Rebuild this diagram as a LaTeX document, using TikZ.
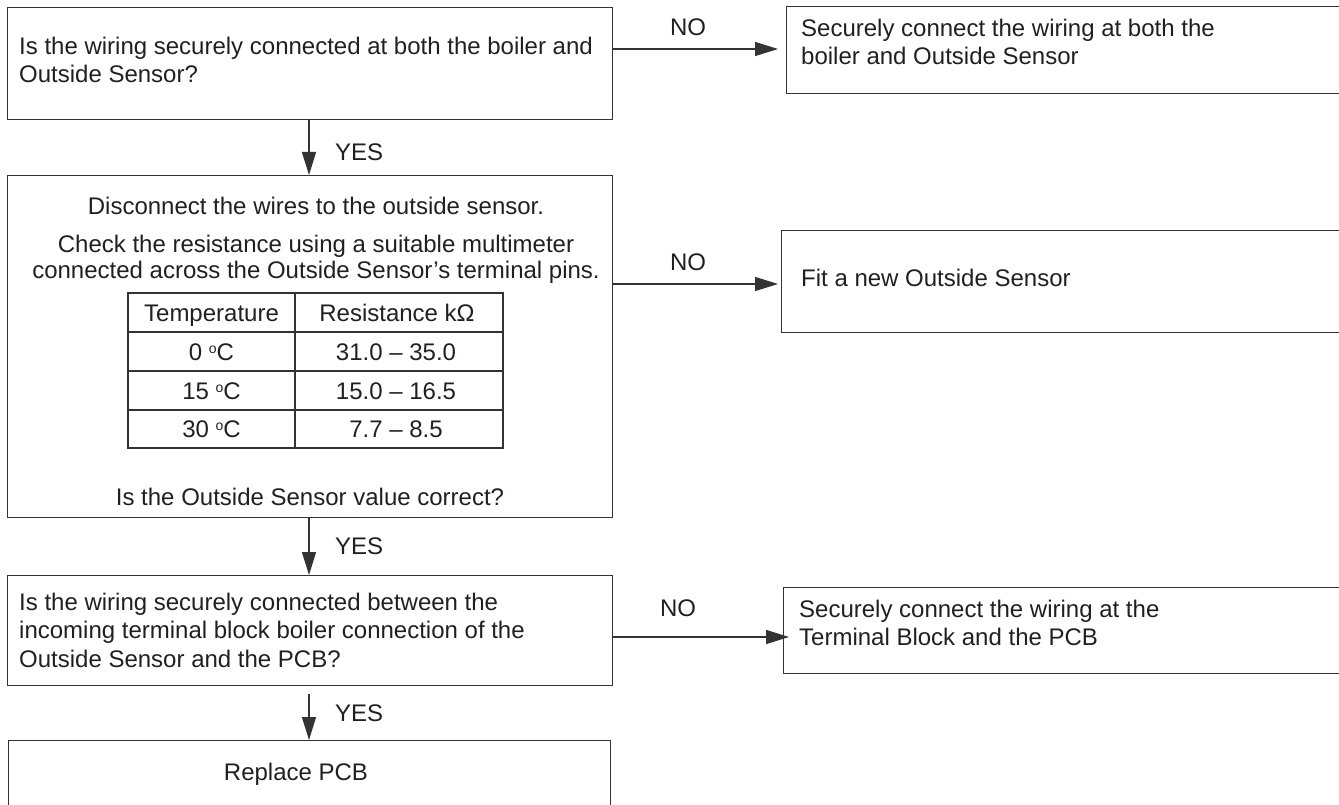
\documentclass[tikz,border=0pt]{standalone}
\usepackage{fontspec}
\setmainfont{Liberation Sans}
\usetikzlibrary{arrows.meta}
\definecolor{ink}{HTML}{231F20}
\definecolor{edge}{HTML}{333333}
\newcommand{\degsym}{{\fontsize{14pt}{14pt}\selectfont\raisebox{6.5pt}{o}}}
\tikzset{
  txt/.style={inner sep=0pt, text=ink, font=\fontsize{24pt}{28pt}\selectfont},
  boxnode/.style={draw=edge, line width=1.3pt, inner sep=0pt, anchor=north west},
  arr/.style={draw=edge, line width=1.3pt, -{Triangle[length=23pt,width=14pt]}},
  rule/.style={draw=edge, line width=1.3pt},
}
\begin{document}
\begin{tikzpicture}[x=1pt, y=-1pt]
\useasboundingbox (0,0) rectangle (1339,805);

% boxes
\node[boxnode, minimum width=605pt, minimum height=112pt] (b1) at (7,7) {};
\node[boxnode, minimum width=559pt, minimum height=87pt]  (n1) at (786,6) {};
\node[boxnode, minimum width=605pt, minimum height=342pt] (b2) at (7,175) {};
\node[boxnode, minimum width=564pt, minimum height=102pt] (n2) at (781,230) {};
\node[boxnode, minimum width=605pt, minimum height=110pt] (b3) at (7,575) {};
\node[boxnode, minimum width=562pt, minimum height=86pt]  (n3) at (783,587) {};
\node[boxnode, minimum width=602pt, minimum height=70pt]  (b4) at (8,740) {};

% texts
\node[txt, anchor=base west] (t1a) at (19,55) {Is the wiring securely connected at both the boiler and};
\node[txt, anchor=base west] (t1b) at (19,83) {Outside Sensor?};
\node[txt, anchor=base west] (m1a) at (801,37) {Securely connect the wiring at both the};
\node[txt, anchor=base west] (m1b) at (801,65) {boiler and Outside Sensor};

\node[txt, anchor=base] (t2a) at (316,215) {Disconnect the wires to the outside sensor.};
\node[txt, anchor=base] (t2b) at (316,252) {Check the resistance using a suitable multimeter};
\node[txt, anchor=base] (t2c) at (316,279) {connected across the Outside Sensor’s terminal pins.};
\node[txt, anchor=base] (t2d) at (310,505) {Is the Outside Sensor value correct?};
\node[txt, anchor=base west] (m2a) at (801,287) {Fit a new Outside Sensor};

\node[txt, anchor=base west] (t3a) at (19,610) {Is the wiring securely connected between the};
\node[txt, anchor=base west] (t3b) at (19,638) {incoming terminal block boiler connection of the};
\node[txt, anchor=base west] (t3c) at (19,667) {Outside Sensor and the PCB?};
\node[txt, anchor=base west] (m3a) at (799,617) {Securely connect the wiring at the};
\node[txt, anchor=base west] (m3b) at (799,645) {Terminal Block and the PCB};

\node[txt, anchor=base] (t4) at (296,780) {Replace PCB};

% table
\draw[rule] (128,293) rectangle (503,448);
\draw[rule] (128,332) -- (503,332);
\draw[rule] (128,371) -- (503,371);
\draw[rule] (128,410) -- (503,410);
\draw[rule] (295,293) -- (295,448);
\node[txt, anchor=base] (h1) at (211.5,321) {Temperature};
\node[txt, anchor=base] (h2) at (397,321) {Resistance k\char"03A9};
\node[txt, anchor=base] (r1a) at (211.5,360) {0 \degsym C};
\node[txt, anchor=base] (r1b) at (396,360) {31.0 – 35.0};
\node[txt, anchor=base] (r2a) at (211.5,399) {15 \degsym C};
\node[txt, anchor=base] (r2b) at (396,399) {15.0 – 16.5};
\node[txt, anchor=base] (r3a) at (211.5,437) {30 \degsym C};
\node[txt, anchor=base] (r3b) at (396,437) {7.7 – 8.5};

% connectors
\coordinate (y1) at (0,49);
\coordinate (y2) at (0,284);
\coordinate (y3) at (0,637);
\coordinate (xc) at (309,0);
\draw[arr, shorten >=8pt] (b1.east |- y1) -- (n1.west |- y1);
\draw[arr, shorten >=3pt] (b2.east |- y2) -- (n2.west |- y2);
\draw[arr, shorten >=-6pt] (b3.east |- y3) -- (n3.west |- y3);
\draw[arr] (b1.south -| xc) -- (b2.north -| xc);
\draw[arr] (b2.south -| xc) -- (b3.north -| xc);
\draw[arr, shorten <=8pt] (b3.south -| xc) -- (b4.north -| xc);

% labels
\node[txt, anchor=base] (no1) at (688,35.5) {NO};
\node[txt, anchor=base] (no2) at (688,270) {NO};
\node[txt, anchor=base] (no3) at (678,616.5) {NO};
\node[txt, anchor=base west] (yes1) at (335,160.5) {YES};
\node[txt, anchor=base west] (yes2) at (335,554.5) {YES};
\node[txt, anchor=base west] (yes3) at (335,721.5) {YES};
\end{tikzpicture}
\end{document}
